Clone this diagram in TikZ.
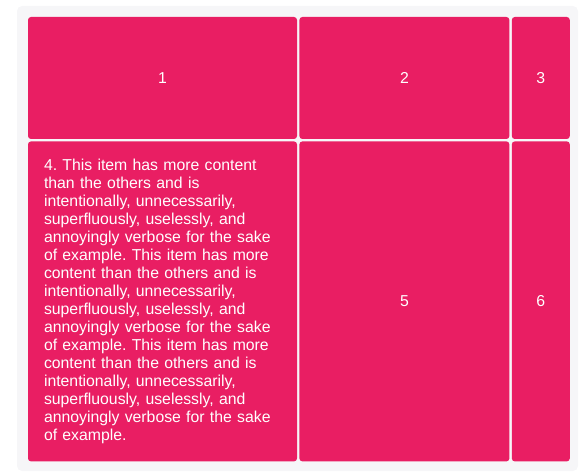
\documentclass[tikz,border=0pt]{standalone}
\usepackage{fontspec}
\setmainfont{Liberation Sans}
\usetikzlibrary{positioning}
\definecolor{itempink}{HTML}{E91E63}
\definecolor{boxgray}{HTML}{F6F6F8}
\frenchspacing

\begin{document}
\begin{tikzpicture}[x=1pt,y=-1pt,
  item/.style={fill=itempink, text=white, rounded corners=3pt, inner sep=0pt,
    font=\fontsize{15.8}{18}\selectfont},
  node distance=2pt]
  \useasboundingbox (0,0) rectangle (582,476);
  \fill[boxgray, rounded corners=5pt] (17,6) rectangle (578,471);
  % first row
  \node[item, minimum width=269pt, minimum height=122pt] (i1) at (162.5,78) {1};
  \node[item, minimum width=210pt, minimum height=122pt, right=of i1] (i2) {2};
  \node[item, minimum width=58pt, minimum height=122pt, right=of i2] (i3) {3};
  % second row
  \node[item, minimum width=269pt, minimum height=320pt, text width=237pt,
    inner xsep=16pt, align=left, below=of i1] (i4)
    {4. This item has more content\\
     than the others and is\\
     intentionally, unnecessarily,\\
     superfluously, uselessly, and\\
     annoyingly verbose for the sake\\
     of example. This item has more\\
     content than the others and is\\
     intentionally, unnecessarily,\\
     superfluously, uselessly, and\\
     annoyingly verbose for the sake\\
     of example. This item has more\\
     content than the others and is\\
     intentionally, unnecessarily,\\
     superfluously, uselessly, and\\
     annoyingly verbose for the sake\\
     of example.};
  \node[item, minimum width=210pt, minimum height=320pt, right=of i4] (i5) {5};
  \node[item, minimum width=58pt, minimum height=320pt, right=of i5] (i6) {6};
\end{tikzpicture}
\end{document}
